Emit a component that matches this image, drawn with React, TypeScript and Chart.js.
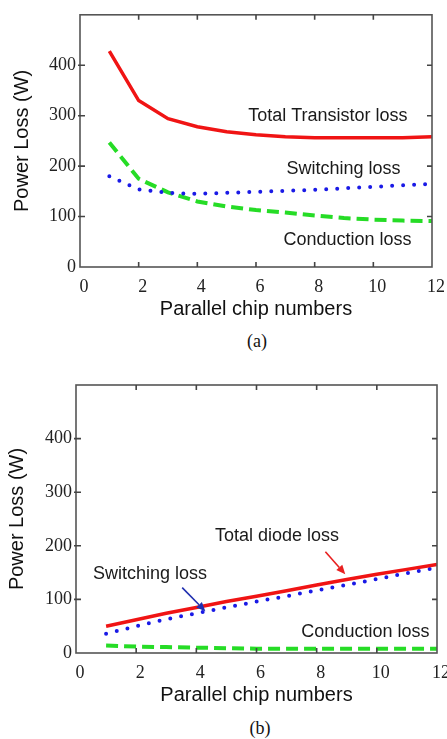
import React, { useEffect, useRef } from "react";
import { Chart, registerables } from "chart.js";

Chart.register(...registerables);

// ---------- data ----------
const CHIPS = [1, 2, 3, 4, 5, 6, 7, 8, 9, 10, 11, 12];

const A_TOTAL = [428, 330, 294, 278, 268, 262, 258, 256, 256, 256, 256, 258];
const A_SWITCHING = [180, 154, 147, 145, 147, 149, 151, 153, 156, 159, 162, 165];
const A_CONDUCTION = [247, 175, 148, 130, 120, 113, 108, 102, 97, 94, 92, 91];

const B_TOTAL = [50, 62, 74, 85, 96, 106, 116, 127, 137, 147, 156, 165];
const B_SWITCHING = [36, 50, 63, 74, 85, 96, 106, 117, 127, 138, 149, 159];
const B_CONDUCTION = [14, 12, 11, 10, 9, 8, 8, 8, 8, 8, 8, 8];

const X_TICKS = [0, 2, 4, 6, 8, 10, 12];
const Y_TICKS = [0, 100, 200, 300, 400, 500];
const X_TITLE = "Parallel chip numbers";
const Y_TITLE = "Power Loss (W)";

const A_LABELS = [
  { text: "Total Transistor loss", x: 8.45, y: 300 },
  { text: "Switching loss", x: 8.98, y: 195 },
  { text: "Conduction loss", x: 9.12, y: 54 },
];
const B_LABELS = [
  { text: "Total diode loss", x: 6.68, y: 218 },
  { text: "Switching loss", x: 2.46, y: 147 },
  { text: "Conduction loss", x: 9.62, y: 40 },
];

const RED = "#f01414";
const BLUE = "#1a1ae6";
const GREEN = "#26dc26";

const B_ARROWS = [
  { x1: 8.29, y1: 189, x2: 8.95, y2: 147, color: "#e82020" },
  { x1: 3.53, y1: 122, x2: 4.3, y2: 78, color: "#2030b0" },
];

type Label = { text: string; x: number; y: number };
type Arrow = { x1: number; y1: number; x2: number; y2: number; color: string };

interface Props {
  top: number;
  height: number;
  padTop: number;
  padRight: number;
  yWidth: number;
  xHeight: number;
  yTitlePad: number;
  xTitlePad: number;
  total: number[];
  switching: number[];
  conduction: number[];
  labels: Label[];
  arrows: Arrow[];
}

function toPoints(vals: number[]) {
  return CHIPS.map((c, i) => ({ x: c, y: vals[i] }));
}

function LossChart(p: Props) {
  const ref = useRef<HTMLCanvasElement | null>(null);

  useEffect(() => {
    if (!ref.current) return;
    const framePlugin = {
      id: "frame",
      afterDatasetsDraw(chart: any) {
        const { ctx, chartArea } = chart;
        const { left, right, top, bottom } = chartArea;
        const xs = chart.scales.x;
        const ys = chart.scales.y;
        ctx.save();
        ctx.strokeStyle = "#555";
        ctx.lineWidth = 1.6;
        ctx.strokeRect(left, top, right - left, bottom - top);
        const L = 5;
        ctx.strokeStyle = "#444";
        ctx.lineWidth = 1.6;
        ctx.beginPath();
        X_TICKS.slice(1, -1).forEach((v) => {
          const px = xs.getPixelForValue(v);
          ctx.moveTo(px, bottom);
          ctx.lineTo(px, bottom - L);
          ctx.moveTo(px, top);
          ctx.lineTo(px, top + L);
        });
        Y_TICKS.slice(1, -1).forEach((v) => {
          const py = ys.getPixelForValue(v);
          ctx.moveTo(left - 2, py);
          ctx.lineTo(left + L, py);
          ctx.moveTo(right, py);
          ctx.lineTo(right - L, py);
        });
        ctx.stroke();

        ctx.font = '18px "Liberation Sans", Arial, sans-serif';
        ctx.fillStyle = "#1a1a1a";
        ctx.textAlign = "center";
        ctx.textBaseline = "middle";
        p.labels.forEach((l) => {
          ctx.fillText(l.text, xs.getPixelForValue(l.x), ys.getPixelForValue(l.y));
        });

        p.arrows.forEach((a) => {
          const sx = xs.getPixelForValue(a.x1);
          const sy = ys.getPixelForValue(a.y1);
          const ex = xs.getPixelForValue(a.x2);
          const ey = ys.getPixelForValue(a.y2);
          const ang = Math.atan2(ey - sy, ex - sx);
          const hl = 9;
          const hw = 4;
          ctx.strokeStyle = a.color;
          ctx.fillStyle = a.color;
          ctx.lineWidth = 1.6;
          ctx.beginPath();
          ctx.moveTo(sx, sy);
          ctx.lineTo(ex - hl * Math.cos(ang), ey - hl * Math.sin(ang));
          ctx.stroke();
          ctx.beginPath();
          ctx.moveTo(ex, ey);
          ctx.lineTo(
            ex - hl * Math.cos(ang) + hw * Math.sin(ang),
            ey - hl * Math.sin(ang) - hw * Math.cos(ang)
          );
          ctx.lineTo(
            ex - hl * Math.cos(ang) - hw * Math.sin(ang),
            ey - hl * Math.sin(ang) + hw * Math.cos(ang)
          );
          ctx.closePath();
          ctx.fill();
        });
        ctx.restore();
      },
    };

    const chart = new Chart(ref.current, {
      type: "line",
      data: {
        datasets: [
          {
            label: "Total",
            data: toPoints(p.total),
            borderColor: RED,
            borderWidth: 3.5,
            pointRadius: 0,
            tension: 0,
          },
          {
            label: "Switching",
            data: toPoints(p.switching),
            borderColor: BLUE,
            borderWidth: 4,
            borderDash: [0, 11],
            borderCapStyle: "round",
            pointRadius: 0,
            tension: 0,
          },
          {
            label: "Conduction",
            data: toPoints(p.conduction),
            borderColor: GREEN,
            borderWidth: 4,
            borderDash: [12, 6],
            pointRadius: 0,
            tension: 0,
          },
        ],
      },
      options: {
        responsive: false,
        animation: false,
        layout: { padding: { top: p.padTop, right: p.padRight, left: 0, bottom: 0 } },
        plugins: { legend: { display: false }, tooltip: { enabled: false } },
        scales: {
          x: {
            type: "linear",
            min: 0,
            max: 12,
            afterBuildTicks: (s: any) => {
              s.ticks = X_TICKS.map((v) => ({ value: v }));
            },
            afterFit: (s: any) => {
              s.height = p.xHeight;
            },
            grid: {
              display: true,
              drawOnChartArea: false,
              drawTicks: true,
              tickLength: 9,
              color: "rgba(0,0,0,0)",
            },
            border: { display: false },
            ticks: {
              autoSkip: false,
              maxRotation: 0,
              padding: 0,
              labelOffset: 4,
              color: "#222",
              font: { family: '"Liberation Serif", "Times New Roman", serif', size: 18 },
            },
            title: {
              display: true,
              text: X_TITLE,
              color: "#111",
              font: { family: '"Liberation Sans", Arial, sans-serif', size: 20 },
              padding: { top: 0, bottom: p.xTitlePad },
            },
          },
          y: {
            type: "linear",
            min: 0,
            max: 500,
            afterBuildTicks: (s: any) => {
              s.ticks = Y_TICKS.map((v) => ({ value: v }));
            },
            afterFit: (s: any) => {
              s.width = p.yWidth;
            },
            grid: { display: false, drawTicks: false },
            border: { display: false },
            ticks: {
              autoSkip: false,
              padding: 4,
              color: "#222",
              font: { family: '"Liberation Serif", "Times New Roman", serif', size: 18 },
              callback: (v: any) => (v === 500 ? null : String(v)),
            },
            title: {
              display: true,
              text: Y_TITLE,
              color: "#111",
              font: { family: '"Liberation Sans", Arial, sans-serif', size: 20 },
              padding: { top: p.yTitlePad, bottom: 0 },
            },
          },
        },
      },
      plugins: [framePlugin],
    } as any);
    return () => chart.destroy();
  }, []);

  return (
    <canvas
      ref={ref}
      width={447}
      height={p.height}
      style={{ position: "absolute", left: 0, top: p.top, display: "block" }}
    />
  );
}

const captionStyle: React.CSSProperties = {
  position: "absolute",
  width: 100,
  textAlign: "center",
  fontFamily: '"Liberation Serif", "Times New Roman", serif',
  fontSize: 18,
  lineHeight: "20px",
  color: "#111",
};

export default function App() {
  return (
    <div
      style={{
        position: "absolute",
        left: 0,
        top: 0,
        width: 447,
        height: 739,
        background: "#fff",
        overflow: "hidden",
      }}
    >
      <LossChart
        top={0}
        height={330}
        padTop={6}
        padRight={15}
        yWidth={80}
        xHeight={63}
        yTitlePad={10}
        xTitlePad={9}
        total={A_TOTAL}
        switching={A_SWITCHING}
        conduction={A_CONDUCTION}
        labels={A_LABELS}
        arrows={[]}
      />
      <div style={{ ...captionStyle, left: 207, top: 331 }}>(a)</div>
      <LossChart
        top={370}
        height={340}
        padTop={15}
        padRight={10}
        yWidth={76}
        xHeight={57}
        yTitlePad={5}
        xTitlePad={3}
        total={B_TOTAL}
        switching={B_SWITCHING}
        conduction={B_CONDUCTION}
        labels={B_LABELS}
        arrows={B_ARROWS}
      />
      <div style={{ ...captionStyle, left: 210, top: 718 }}>(b)</div>
    </div>
  );
}
